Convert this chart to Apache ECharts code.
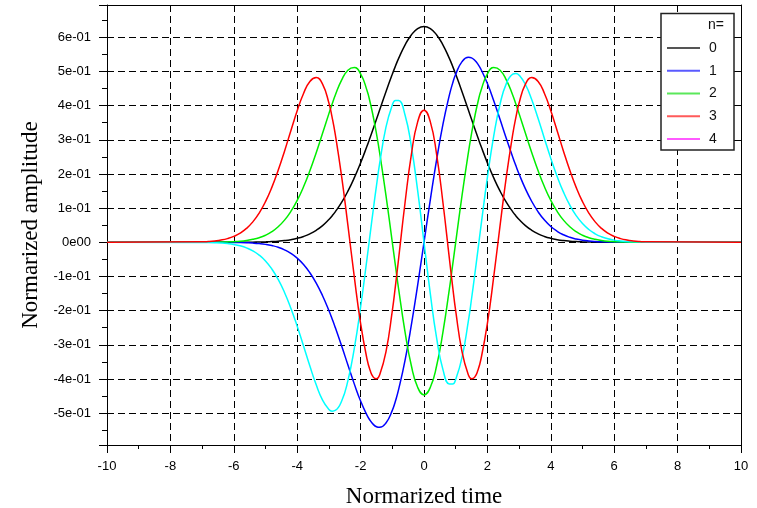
<!DOCTYPE html>
<html>
<head>
<meta charset="utf-8">
<script src="https://cdn.jsdelivr.net/npm/echarts@6/dist/echarts.min.js"></script>
<style>
html,body{margin:0;padding:0;background:#fff;}
#chart{width:757px;height:508px;}
</style>
</head>
<body>
<div id="chart"></div>
<script>
// Normalized time samples
var xs = [-10,
-7.0,-6.8,-6.6,-6.4,-6.2,-6.0,-5.8,-5.6,-5.4,-5.2,-5.0,-4.8,-4.6,-4.4,-4.2,-4.0,-3.8,-3.6,-3.4,-3.2,-3.0,-2.9,-2.8,-2.6,-2.4,-2.2,-2.0,-1.8,-1.7,-1.6,-1.5,-1.4,-1.2,-1.0,-0.9,-0.8,-0.6,-0.4,-0.2,
0,
0.2,0.4,0.6,0.8,0.9,1.0,1.2,1.4,1.5,1.6,1.7,1.8,2.0,2.2,2.4,2.6,2.8,2.9,3.0,3.2,3.4,3.6,3.8,4.0,4.2,4.4,4.6,4.8,5.0,5.2,5.4,5.6,5.8,6.0,6.2,6.4,6.6,6.8,7.0,
10];

// n = 0
var amp0 = [0,
0,0,0,0,0,0.0001,0.0001,0.0002,0.0004,0.0007,0.0012,0.0020,0.0032,0.0050,0.0077,0.0116,0.0171,0.0247,0.0351,0.0488,0.0666,0.0772,0.0890,0.1166,0.1497,0.1884,0.2324,0.2810,0.3067,0.3331,0.3599,0.3870,0.4407,0.4919,0.5159,0.5382,0.5773,0.6069,0.6254,
0.6316,
0.6254,0.6069,0.5773,0.5382,0.5159,0.4919,0.4407,0.3870,0.3599,0.3331,0.3067,0.2810,0.2324,0.1884,0.1497,0.1166,0.0890,0.0772,0.0666,0.0488,0.0351,0.0247,0.0171,0.0116,0.0077,0.0050,0.0032,0.0020,0.0012,0.0007,0.0004,0.0002,0.0001,0.0001,0,0,0,0,0,
0];

// n = 1
var amp1 = [0,
0,0,-0.0001,-0.0001,-0.0003,-0.0005,-0.0008,-0.0014,-0.0023,-0.0038,-0.0061,-0.0096,-0.0146,-0.0220,-0.0323,-0.0463,-0.0649,-0.0891,-0.1194,-0.1563,-0.1997,-0.2237,-0.2491,-0.3030,-0.3592,-0.4144,-0.4647,-0.5058,-0.5214,-0.5329,-0.5398,-0.5417,-0.5288,-0.4919,-0.4643,-0.4306,-0.3464,-0.2427,-0.1251,
0,
0.1251,0.2427,0.3464,0.4306,0.4643,0.4919,0.5288,0.5417,0.5398,0.5329,0.5214,0.5058,0.4647,0.4144,0.3592,0.3030,0.2491,0.2237,0.1997,0.1563,0.1194,0.0891,0.0649,0.0463,0.0323,0.0220,0.0146,0.0096,0.0061,0.0038,0.0023,0.0014,0.0008,0.0005,0.0003,0.0001,0.0001,0,0,
0];

// n = 2
var amp2 = [0,
0.0001,0.0002,0.0004,0.0006,0.0011,0.0019,0.0032,0.0054,0.0086,0.0134,0.0207,0.0310,0.0453,0.0648,0.0904,0.1227,0.1624,0.2092,0.2622,0.3190,0.3766,0.4042,0.4303,0.4747,0.5037,0.5114,0.4929,0.4451,0.4099,0.3674,0.3181,0.2627,0.1371,0,-0.0693,-0.1370,-0.2612,-0.3605,-0.4245,
-0.4466,
-0.4245,-0.3605,-0.2612,-0.1370,-0.0693,0,0.1371,0.2627,0.3181,0.3674,0.4099,0.4451,0.4929,0.5114,0.5037,0.4747,0.4303,0.4042,0.3766,0.3190,0.2622,0.2092,0.1624,0.1227,0.0904,0.0648,0.0453,0.0310,0.0207,0.0134,0.0086,0.0054,0.0032,0.0019,0.0011,0.0006,0.0004,0.0002,0.0001,
0];

// n = 3 (drawn in cyan)
var amp3 = [0,
-0.0004,-0.0007,-0.0013,-0.0022,-0.0038,-0.0063,-0.0102,-0.0162,-0.0249,-0.0374,-0.0547,-0.0782,-0.1086,-0.1468,-0.1928,-0.2456,-0.3033,-0.3622,-0.4172,-0.4619,-0.4892,-0.4942,-0.4922,-0.4652,-0.4047,-0.3113,-0.1897,-0.0496,0.0234,0.0957,0.1653,0.2300,0.3368,0.4016,0.4151,0.4149,0.3733,0.2814,0.1511,
0,
-0.1511,-0.2814,-0.3733,-0.4149,-0.4151,-0.4016,-0.3368,-0.2300,-0.1653,-0.0957,-0.0234,0.0496,0.1897,0.3113,0.4047,0.4652,0.4922,0.4942,0.4892,0.4619,0.4172,0.3622,0.3033,0.2456,0.1928,0.1468,0.1086,0.0782,0.0547,0.0374,0.0249,0.0162,0.0102,0.0063,0.0038,0.0022,0.0013,0.0007,0.0004,
0];

// n = 4 (drawn in red)
var amp4 = [0,
0.0013,0.0023,0.0040,0.0066,0.0108,0.0172,0.0267,0.0406,0.0597,0.0855,0.1189,0.1607,0.2105,0.2667,0.3266,0.3850,0.4356,0.4707,0.4821,0.4627,0.4077,0.3664,0.3165,0.1936,0.0494,-0.1005,-0.2372,-0.3408,-0.3748,-0.3947,-0.3994,-0.3885,-0.3208,-0.2008,-0.1268,-0.0473,0.1143,0.2559,0.3525,
0.3868,
0.3525,0.2559,0.1143,-0.0473,-0.1268,-0.2008,-0.3208,-0.3885,-0.3994,-0.3947,-0.3748,-0.3408,-0.2372,-0.1005,0.0494,0.1936,0.3165,0.3664,0.4077,0.4627,0.4821,0.4707,0.4356,0.3850,0.3266,0.2667,0.2105,0.1607,0.1189,0.0855,0.0597,0.0406,0.0267,0.0172,0.0108,0.0066,0.0040,0.0023,0.0013,
0];

var seriesNames = ['0', '1', '2', '3', '4'];
var seriesAmps = [amp0, amp1, amp2, amp3, amp4];
var curveColors = ['#000000', '#0000ff', '#00ee00', '#00ffff', '#ff0000'];
var legendColors = ['#555555', '#5a5aff', '#5ae85a', '#ff5a5a', '#ff5aff'];

var xTitle = 'Normarized time';
var yTitle = 'Normarized amplitude';
var legendTitle = 'n=';

function pairs(vals) {
  return xs.map(function (x, i) { return [x, vals[i]]; });
}

function yLabel(v) {
  var n = Math.round(v * 10);
  if (Math.abs(v * 10 - n) > 0.01) return '';
  if (n === 0) return '0e00';
  return n + 'e-01';
}

var chart = echarts.init(document.getElementById('chart'), null, {renderer: 'canvas'});

var gridLine = {show: true, lineStyle: {color: '#000', width: 1, type: [7, 4]}};
var axisLineStyle = {color: '#000', width: 1};
var labelFont = {fontFamily: '"Liberation Sans", Arial, sans-serif', fontSize: 13, color: '#000'};

var option = {
  animation: false,
  backgroundColor: '#fff',
  grid: {left: 107, right: 16, top: 5, bottom: 63, containLabel: false, outerBoundsMode: 'none'},
  xAxis: [{
    type: 'value', min: -10, max: 10, interval: 2, position: 'bottom',
    name: xTitle, nameLocation: 'middle', nameGap: 40,
    nameTextStyle: {fontFamily: '"Liberation Serif", "Times New Roman", serif', fontSize: 23, color: '#000'},
    axisLine: {show: true, onZero: false, lineStyle: axisLineStyle},
    axisTick: {show: true, inside: false, length: 8, lineStyle: axisLineStyle},
    minorTick: {show: true, splitNumber: 2, length: 4, lineStyle: axisLineStyle},
    axisLabel: Object.assign({margin: 15}, labelFont),
    splitLine: gridLine
  }, {
    type: 'value', min: -10, max: 10, interval: 2, position: 'top',
    axisLine: {show: true, onZero: false, lineStyle: axisLineStyle},
    axisTick: {show: true, inside: true, length: 5, lineStyle: axisLineStyle},
    axisLabel: {show: false},
    splitLine: {show: false}
  }],
  yAxis: [{
    type: 'value', min: -0.5933, max: 0.6945, splitNumber: 13, minInterval: 0.1, maxInterval: 0.1,
    position: 'left',
    name: yTitle, nameLocation: 'middle', nameGap: 64,
    nameTextStyle: {fontFamily: '"Liberation Serif", "Times New Roman", serif', fontSize: 23, color: '#000'},
    axisLine: {show: true, onZero: false, lineStyle: axisLineStyle},
    axisTick: {show: true, inside: false, length: 8, lineStyle: axisLineStyle},
    minorTick: {show: true, splitNumber: 2, length: 5, lineStyle: axisLineStyle},
    axisLabel: Object.assign({margin: 16, formatter: yLabel, showMinLabel: false, showMaxLabel: false}, labelFont),
    splitLine: gridLine
  }, {
    type: 'value', min: -0.5933, max: 0.6945, splitNumber: 13, minInterval: 0.1, maxInterval: 0.1,
    position: 'right',
    axisLine: {show: true, onZero: false, lineStyle: axisLineStyle},
    axisTick: {show: true, inside: true, length: 5, lineStyle: axisLineStyle},
    axisLabel: {show: false},
    splitLine: {show: false}
  }],
  legend: {
    orient: 'vertical', left: 667, top: 41, padding: 0,
    itemGap: 8.75, itemWidth: 33, itemHeight: 2, icon: 'rect',
    selectedMode: false,
    textStyle: {fontFamily: '"Liberation Sans", Arial, sans-serif', fontSize: 14, color: '#111', lineHeight: 14, padding: [0, 0, 0, 4]},
    data: seriesNames.map(function (n, i) {
      return {name: n, itemStyle: {color: legendColors[i]}, lineStyle: {color: legendColors[i]}};
    }),
    z: 6
  },
  graphic: [{
    type: 'rect', z: 3,
    shape: {x: 661, y: 13.5, width: 73, height: 136.5},
    style: {fill: '#fff', stroke: '#222', lineWidth: 1.5}
  }, {
    type: 'text', z: 10, x: 708, y: 25,
    style: {text: legendTitle, font: '14px "Liberation Sans", Arial, sans-serif', fill: '#111', verticalAlign: 'middle', align: 'left'}
  }],
  series: seriesNames.map(function (n, i) {
    return {
      name: n, type: 'line', xAxisIndex: 0, yAxisIndex: 0,
      data: pairs(seriesAmps[i]),
      showSymbol: false, symbol: 'none', smooth: 0.5,
      lineStyle: {color: curveColors[i], width: 1.5},
      itemStyle: {color: curveColors[i]},
      emphasis: {disabled: true},
      z: 2 + i * 0.01
    };
  })
};
chart.setOption(option);
</script>
</body>
</html>
